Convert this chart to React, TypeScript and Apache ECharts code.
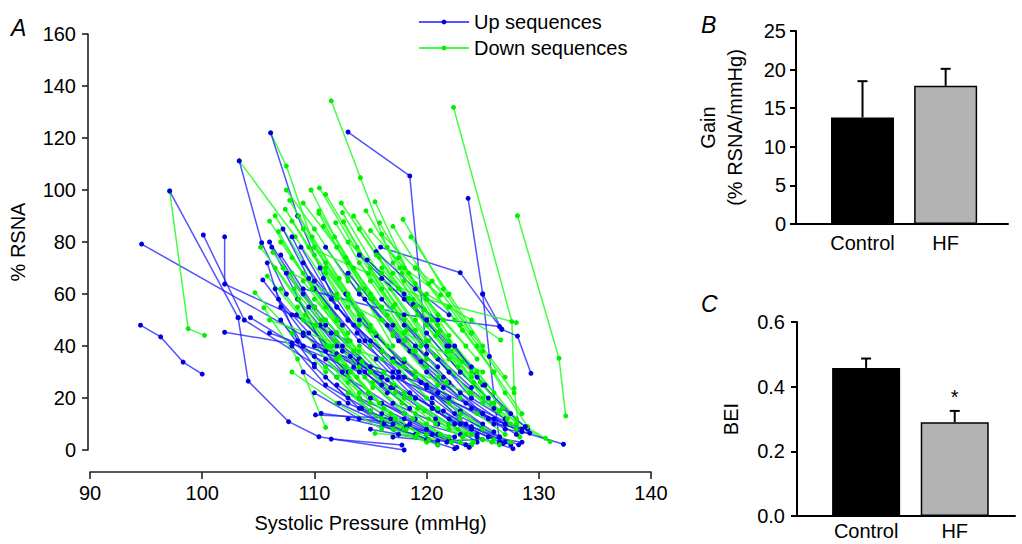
import React, { useEffect, useRef } from "react";
import * as echarts from "echarts";

// ---------- data ----------
const pressureTicks = [90, 100, 110, 120, 130, 140];
const rsnaTicks = [0, 20, 40, 60, 80, 100, 120, 140, 160];
const barCategories = ["Control", "HF"];
const gainMean = [13.8, 17.9];
const gainUpper = [18.5, 20.1];
const beiMean = [0.458, 0.29];
const beiUpper = [0.487, 0.325];
const beiMarks = ["", "*"];

// Up sequences (SBP rising, RSNA falling): [SBP mmHg, %RSNA]
const upSequences: number[][][] = [
  [[94.6, 79.2], [109, 44], [116.5, 27]],
  [[94.5, 48], [96.3, 43.5], [98.3, 33.8], [100, 29.2]],
  [[97.1, 99.6], [103.2, 50.9]],
  [[103.2, 50.9], [104.1, 26.5], [107.7, 10.9], [110.4, 5.1], [118, 0]],
  [[100.1, 82.7], [103.75, 50], [110, 33]],
  [[102, 82], [102, 63.8], [108, 52], [113, 42]],
  [[111.5, 4.2], [117.8, 1.9]],
  [[104.3, 50.9], [110, 36], [118, 14]],
  [[102, 45.3], [108, 41], [114, 30]],
  [[103.3, 111.2], [105.3, 79.7], [107.5, 60]],
  [[106.1, 122], [108.5, 90], [110.5, 70], [112, 55]],
  [[113, 122.3], [118.5, 105.4], [120, 37]],
  [[115.9, 78], [123, 68.2], [126.7, 46.4], [128.1, 43.8], [129.3, 29.5]],
  [[123.7, 96.8], [125, 60], [126.7, 46.5]],
  [[125, 60], [125.6, 36], [126.5, 3]],
  [[109, 62], [118, 52], [126.5, 47.5]],
  [[110.1, 13.5], [118, 12], [123, 6]],
  [[110.6, 14.1], [116, 11], [122.5, 5]],
  [[114, 20], [120, 8], [122.7, 1]],
  [[116, 18], [121, 6], [123.5, 2]],
  [[117, 24], [122, 10], [124.5, 3]],
  [[118, 28], [123, 15], [126, 7]],
  [[119, 20], [124, 9], [127.5, 2]],
  [[120, 30], [125, 14], [128, 6]],
  [[121, 22], [126, 10], [129, 8]],
  [[122, 12], [126.5, 5], [128.2, 2]],
  [[118.5, 10], [122, 4], [124, 2]],
  [[113, 12], [119, 6], [121, 2]],
  [[115, 8], [120, 4], [122.5, 0.5]],
  [[124, 16], [127, 8], [129.2, 6.5]],
  [[126, 12], [128.5, 7], [132.2, 2.2]],
  [[120.5, 16], [124.5, 5], [127.7, 0.5]],
  [[117, 5], [121, 3.5], [125, 4]],
  [[106, 80], [109, 60], [112, 45]],
  [[107, 75], [110, 55], [114, 35]],
  [[107.5, 68], [111, 48], [115, 32]],
  [[108, 82], [110, 65], [113, 50]],
  [[108.5, 58], [112, 40], [116, 28]],
  [[109, 72], [113, 50], [117, 35]],
  [[110, 62], [114, 42], [118, 28]],
  [[110.5, 48], [114, 33], [119, 20]],
  [[111, 78], [114, 60], [118, 42]],
  [[112, 55], [116, 38], [120, 24]],
  [[112.5, 40], [116, 28], [121, 15]],
  [[113, 68], [117, 48], [121, 32]],
  [[114, 50], [118, 34], [122, 20]],
  [[115, 42], [119, 28], [123, 14]],
  [[116, 58], [120, 40], [124, 24]],
  [[117, 35], [121, 22], [125, 10]],
  [[118, 48], [122, 30], [126, 16]],
  [[119, 40], [123, 22], [127, 10]],
  [[105.8, 72], [107, 55], [109, 40]],
  [[106.5, 62], [108.5, 42], [112, 28]],
  [[107, 50], [110, 32], [113, 20]],
  [[108, 40], [111, 25], [115, 15]],
  [[109, 30], [113, 18], [117, 10]],
  [[111, 35], [115, 20], [119, 12]],
  [[112, 25], [116, 14], [120, 6]],
  [[113.5, 32], [117, 18], [121, 10]],
  [[110, 22], [114, 12], [118, 8]],
  [[106.2, 78], [111, 38]],
  [[114, 75], [118, 58], [122, 40]],
  [[116, 66], [120, 50], [124, 32]],
  [[120, 45], [123, 30], [125.5, 20]],
  [[121, 35], [124, 20], [127, 12]],
  [[122, 26], [125, 14], [128, 8]],
  [[108.4, 52], [112, 37], [116, 25]],
  [[105.4, 65.4], [109, 45], [113, 30]],
  [[106, 45], [117, 28], [127, 10]],
  [[110, 40], [120, 25], [128.5, 8]],
  [[115.5, 76.3], [119, 62], [122, 52]],
  [[114.7, 73.1], [118, 60], [121, 50]],
  [[107.2, 85], [109.5, 66], [112.5, 48]],
  [[108.8, 78], [111.5, 58], [114.5, 42]],
  [[109.5, 55], [112.5, 38], [116.5, 22]],
  [[110.8, 66], [113.5, 48], [117.5, 30]],
  [[111.5, 45], [114.5, 30], [118.5, 16]],
  [[112.8, 60], [115.5, 44], [119.5, 26]],
  [[113.8, 45], [117, 30], [120.5, 18]],
  [[114.5, 58], [117.5, 42], [121.5, 28]],
  [[115.5, 35], [118.5, 22], [122.5, 10]],
  [[116.5, 48], [119.5, 34], [123.5, 18]],
  [[117.5, 28], [120.5, 16], [124.5, 6]],
  [[118.5, 38], [121.5, 24], [125.5, 12]],
  [[119.5, 26], [122.5, 14], [126.5, 5]],
  [[120.5, 20], [123.5, 10], [127, 3]],
  [[121.5, 15], [124, 8], [126.8, 2.5]],
  [[123, 10], [125.5, 5], [128.5, 3]],
  [[116.8, 12], [120.5, 6], [123.8, 1]],
  [[114.2, 16], [118.2, 9], [121.8, 3]],
  [[112.2, 18], [116.2, 10], [120.2, 4]],
  [[111, 28], [114, 16], [117.5, 6]],
  [[122.5, 40], [125, 25], [127.5, 14]],
  [[124.5, 28], [126.8, 16], [128.8, 9]],
  [[106.8, 58], [109.5, 45], [112.5, 30]],
  [[113.2, 36], [116.8, 24], [120.8, 12]],
  [[118.8, 56], [121.8, 40], [125.2, 25]],
];

// Down sequences (SBP falling, RSNA rising): [SBP mmHg, %RSNA]
const downSequences: number[][][] = [
  [[97.1, 99.6], [98.75, 46.7], [100.2, 44.1]],
  [[103.3, 111.2], [108.3, 82], [112, 58]],
  [[106.1, 122], [107.5, 109.2], [110, 78], [113, 58]],
  [[111.5, 134.3], [114.1, 104.7], [117, 72], [119, 55]],
  [[122.4, 131.8], [127.6, 49.4], [127.8, 23.7], [128.3, 5]],
  [[128.1, 90.1], [131.8, 35.3], [132.4, 13.1]],
  [[117.9, 88.7], [121.5, 62], [124, 45]],
  [[115.4, 95.5], [118.4, 68], [121, 48]],
  [[109.7, 100], [113, 72], [116, 50]],
  [[110.45, 100.8], [114, 75], [117.5, 52]],
  [[111, 98.3], [115, 70], [119, 46]],
  [[107.4, 92.6], [111, 68], [114, 48]],
  [[106.5, 90.1], [110, 65], [113, 45]],
  [[112.5, 91.3], [116, 66], [120, 42]],
  [[115.8, 87.4], [119, 64], [122, 44]],
  [[115, 84.4], [118, 70], [121.25, 59.6]],
  [[116, 83], [119, 70], [121.9, 59.6]],
  [[113, 80], [116, 68], [118.4, 58.3]],
  [[104.7, 60.5], [108, 45], [111, 30]],
  [[105.8, 66.9], [109, 50], [112, 35]],
  [[105.5, 54.7], [108.5, 35], [111, 8.7]],
  [[124, 30], [128, 10], [131, 3.2]],
  [[122, 35], [126.5, 15], [130.6, 4.5]],
  [[120, 60], [124, 50], [126.6, 42.3]],
  [[111.9, 87.4], [115, 65], [118, 45]],
  [[112.6, 87.8], [116, 62], [119.5, 40]],
  [[110.4, 92], [113.5, 70], [117, 48]],
  [[110.4, 91], [114, 62], [117, 40]],
  [[108, 88], [112, 60], [115, 40]],
  [[109, 85], [113, 58], [116, 38]],
  [[107, 80], [111, 55], [114, 35]],
  [[108, 74], [112, 50], [115, 30]],
  [[106.5, 70], [110, 48], [113, 28]],
  [[107, 62], [111, 40], [114, 22]],
  [[108.5, 55], [112, 35], [115, 18]],
  [[109, 65], [113, 42], [117, 25]],
  [[110, 75], [114, 52], [118, 32]],
  [[111, 70], [115, 46], [119, 28]],
  [[112, 78], [116, 55], [120, 35]],
  [[113, 66], [117, 44], [121, 25]],
  [[114, 72], [118, 50], [122, 30]],
  [[115, 60], [119, 38], [123, 20]],
  [[116, 70], [120, 48], [124, 28]],
  [[117, 55], [121, 35], [125, 18]],
  [[118, 65], [122, 42], [126, 22]],
  [[119, 50], [123, 30], [126.5, 15]],
  [[120, 40], [124, 22], [127.5, 10]],
  [[121, 48], [124.5, 30], [128, 12]],
  [[110, 58], [114, 38], [118, 20]],
  [[111, 50], [115, 30], [119, 14]],
  [[112, 45], [116, 25], [120, 10]],
  [[113, 55], [117, 34], [121, 16]],
  [[114, 40], [118, 22], [122, 8]],
  [[115, 48], [119, 28], [123, 12]],
  [[116, 38], [120, 20], [124, 6]],
  [[117, 45], [121, 25], [125, 8]],
  [[118, 35], [122, 18], [126, 4]],
  [[119, 30], [123, 14], [127.5, 3]],
  [[109, 45], [113, 26], [117, 12]],
  [[110, 40], [114, 20], [118, 8]],
  [[111, 32], [115, 15], [119, 5]],
  [[112, 28], [116, 10], [120, 3]],
  [[113, 22], [117, 8], [121, 2]],
  [[115.4, 6.4], [119, 5], [123, 3]],
  [[107.5, 100], [110, 85], [113, 65]],
  [[109, 95], [112, 78], [115, 58]],
  [[113.5, 90], [117, 68], [120.5, 50]],
  [[114, 85], [117.5, 62], [121, 45]],
  [[116.5, 78], [120, 58], [123.5, 40]],
  [[117.5, 74], [121, 52], [124.5, 35]],
  [[119, 70], [122.5, 50], [126, 30]],
  [[120.5, 65], [124, 45], [127, 28]],
  [[122, 55], [125, 38], [127.8, 22]],
  [[123, 48], [126, 30], [128.5, 14]],
  [[124.5, 40], [127, 22], [129, 9]],
  [[106, 88], [109, 68], [112, 50]],
  [[106.3, 76], [110, 55], [113.5, 38]],
  [[118.5, 20], [122, 10], [125, 4]],
  [[121, 28], [124.5, 14], [127, 6]],
  [[116, 12], [120, 6], [124, 2]],
  [[114.5, 28], [118, 14], [122, 5]],
  [[108, 30], [112, 18], [116, 8]],
  [[106, 50], [116, 35], [126, 18]],
  [[108, 68], [118, 45], [125, 30]],
  [[109.5, 78], [120, 58], [128, 49]],
  [[107.8, 96], [111, 72], [114.2, 52]],
  [[108.6, 90], [112.2, 66], [115.4, 45]],
  [[109.8, 82], [113, 60], [116.5, 40]],
  [[110.8, 86], [114.5, 62], [118, 42]],
  [[111.8, 82], [115.2, 58], [118.8, 38]],
  [[112.8, 74], [116.5, 52], [120, 32]],
  [[113.8, 78], [117.2, 56], [120.8, 36]],
  [[114.8, 68], [118.2, 46], [121.8, 26]],
  [[115.8, 74], [119.2, 52], [122.8, 32]],
  [[116.8, 62], [120.2, 42], [123.8, 22]],
  [[117.8, 68], [121.2, 46], [124.8, 26]],
  [[118.8, 58], [122.2, 38], [125.8, 18]],
  [[119.8, 54], [123.2, 34], [126.8, 16]],
  [[120.8, 44], [124.2, 26], [127.2, 12]],
  [[121.8, 38], [125, 20], [128, 8]],
  [[108.2, 62], [111.8, 42], [115.2, 24]],
  [[109.2, 52], [112.8, 32], [116.2, 16]],
  [[110.2, 48], [113.8, 28], [117.2, 12]],
  [[111.2, 40], [114.8, 22], [118.2, 8]],
  [[112.2, 36], [115.8, 18], [119.2, 6]],
  [[113.2, 30], [116.8, 14], [120.2, 4]],
  [[114.2, 34], [117.8, 18], [121.2, 6]],
  [[115.2, 26], [118.8, 12], [122.2, 3]],
  [[116.2, 30], [119.8, 15], [123.2, 5]],
  [[117.2, 22], [120.8, 10], [124.2, 3]],
  [[119.2, 16], [122.8, 8], [125.8, 3]],
  [[120.2, 12], [123.5, 6], [126.5, 2]],
  [[106.8, 84], [109.8, 62], [113.2, 42]],
  [[105.2, 78], [108.6, 58], [111.6, 40]],
  [[107.2, 70], [110.6, 50], [114, 32]],
  [[112.4, 95], [115.5, 75], [119, 55]],
  [[114.6, 92], [117.6, 70], [121.5, 50]],
  [[117, 86], [120.2, 64], [123.2, 46]],
  [[118.6, 82], [122, 60], [125, 40]],
];

// ---------- styling ----------
const FONT = '"Liberation Sans", Arial, Helvetica, sans-serif';
const BLACK = "#000";

function buildOption() {
  const upSeries = upSequences.map((seq) => ({
    type: "line",
    name: "Up sequences",
    xAxisIndex: 0,
    yAxisIndex: 0,
    data: seq,
    symbol: "circle",
    symbolSize: 5,
    showSymbol: true,
    silent: true,
    lineStyle: { color: "#1a1aff", width: 1.5, opacity: 0.75 },
    itemStyle: { color: "#0000e0" },
    z: 2,
  }));
  const downSeries = downSequences.map((seq) => ({
    type: "line",
    name: "Down sequences",
    xAxisIndex: 0,
    yAxisIndex: 0,
    data: seq,
    symbol: "circle",
    symbolSize: 5,
    showSymbol: true,
    silent: true,
    lineStyle: { color: "#22ff22", width: 1.5, opacity: 0.85 },
    itemStyle: { color: "#00f000" },
    z: 2,
  }));
  const seqSeries: any[] = [];
  const n = Math.max(upSeries.length, downSeries.length);
  for (let i = 0; i < n; i++) {
    if (upSeries[i]) seqSeries.push(upSeries[i]);
    if (downSeries[i]) seqSeries.push(downSeries[i]);
  }

  const posB = [0.8, 1.8];
  const posC = [0.78, 1.78];
  const barColors = ["#000000", "#b3b3b3"];

  const errRender = (params: any, api: any) => {
    const x = api.value(0);
    const m = api.value(1);
    const u = api.value(2);
    const p0 = api.coord([x, m]);
    const p1 = api.coord([x, u]);
    const cap = 5;
    return {
      type: "group",
      children: [
        { type: "line", shape: { x1: p0[0], y1: p0[1], x2: p1[0], y2: p1[1] }, style: { stroke: BLACK, lineWidth: 2 } },
        { type: "line", shape: { x1: p1[0] - cap, y1: p1[1], x2: p1[0] + cap, y2: p1[1] }, style: { stroke: BLACK, lineWidth: 2 } },
      ],
    };
  };

  const catAxis = (gridIndex: number, max: number, pos: number[], margin: number) => ({
    type: "value",
    gridIndex,
    min: 0,
    max,
    axisLine: { show: true, onZero: false, lineStyle: { color: BLACK, width: 2 } },
    axisTick: { show: false },
    splitLine: { show: false },
    axisLabel: {
      show: true,
      customValues: pos,
      margin,
      color: BLACK,
      fontSize: 20,
      fontFamily: FONT,
      formatter: (v: number) => {
        const i = pos.findIndex((p) => Math.abs(p - v) < 1e-6);
        return i >= 0 ? barCategories[i] : "";
      },
    },
  });

  const valAxisCommon = {
    type: "value",
    axisLine: { show: true, onZero: false, lineStyle: { color: BLACK, width: 2 } },
    axisTick: { show: true, inside: false, length: 6, lineStyle: { color: BLACK, width: 2 } },
    splitLine: { show: false },
    nameLocation: "middle",
    nameMoveOverlap: false,
    nameRotate: 90,
    nameTextStyle: { color: BLACK, fontSize: 20, fontFamily: FONT, lineHeight: 27 },
  };

  return {
    animation: false,
    backgroundColor: "#fff",
    textStyle: { fontFamily: FONT },
    legend: {
      show: true,
      orient: "vertical",
      left: 413,
      top: 7,
      itemWidth: 50,
      itemHeight: 6,
      itemGap: 6,
      selectedMode: false,
      data: ["Up sequences", "Down sequences"],
      textStyle: { fontSize: 20, color: BLACK, fontFamily: FONT },
    },
    grid: [
      { left: 90, top: 34, width: 561, height: 416, outerBoundsMode: "none", containLabel: false },
      { left: 796, top: 31, width: 212, height: 193, outerBoundsMode: "none", containLabel: false },
      { left: 797, top: 322, width: 218, height: 194, outerBoundsMode: "none", containLabel: false },
    ],
    xAxis: [
      {
        type: "value",
        gridIndex: 0,
        min: 90,
        max: 140,
        interval: 10,
        offset: 22,
        axisLine: { show: true, onZero: false, lineStyle: { color: "#222", width: 1.6 } },
        axisTick: { show: true, inside: false, length: 7, lineStyle: { color: "#222", width: 1.6 } },
        splitLine: { show: false },
        axisLabel: {
          margin: 11,
          color: BLACK,
          fontSize: 20,
          fontFamily: FONT,
          customValues: pressureTicks,
        },
        name: "Systolic Pressure (mmHg)",
        nameLocation: "middle",
        nameGap: 41,
        nameMoveOverlap: false,
        nameTextStyle: { color: BLACK, fontSize: 20, fontFamily: FONT },
      },
      catAxis(1, 2.55, posB, 9),
      catAxis(2, 2.46, posC, 5),
    ],
    yAxis: [
      {
        type: "value",
        gridIndex: 0,
        min: 0,
        max: 160,
        interval: 20,
        offset: 2,
        axisLine: { show: true, onZero: false, lineStyle: { color: "#222", width: 1.6 } },
        axisTick: { show: true, inside: false, length: 6, lineStyle: { color: "#222", width: 1.6 } },
        splitLine: { show: false },
        axisLabel: { margin: 12, color: BLACK, fontSize: 20, fontFamily: FONT, customValues: rsnaTicks },
        name: "% RSNA",
        nameLocation: "middle",
        nameGap: 60,
        nameMoveOverlap: false,
        nameTextStyle: { color: BLACK, fontSize: 20, fontFamily: FONT },
      },
      {
        ...valAxisCommon,
        gridIndex: 1,
        min: 0,
        max: 25,
        interval: 5,
        axisLabel: { margin: 10, color: BLACK, fontSize: 20, fontFamily: FONT },
        name: "Gain\n(% RSNA/mmHg)",
        nameGap: 48,
      },
      {
        ...valAxisCommon,
        gridIndex: 2,
        min: 0,
        max: 0.6,
        interval: 0.2,
        axisLabel: {
          margin: 12,
          color: BLACK,
          fontSize: 20,
          fontFamily: FONT,
          formatter: (v: number) => v.toFixed(1),
        },
        name: "BEI",
        nameGap: 53,
      },
    ],
    graphic: [
      { type: "text", left: 11, top: 16, style: { text: "A", fontSize: 23, fontStyle: "italic", fontFamily: FONT, fill: BLACK } },
      { type: "text", left: 701, top: 13, style: { text: "B", fontSize: 23, fontStyle: "italic", fontFamily: FONT, fill: BLACK } },
      { type: "text", left: 701, top: 292, style: { text: "C", fontSize: 23, fontStyle: "italic", fontFamily: FONT, fill: BLACK } },
    ],
    series: [
      ...seqSeries,
      {
        type: "bar",
        xAxisIndex: 1,
        yAxisIndex: 1,
        barWidth: 63,
        silent: true,
        data: gainMean.map((v, i) => ({
          value: [posB[i], v],
          itemStyle: { color: barColors[i], borderColor: BLACK, borderWidth: 1.5 },
        })),
        z: 3,
      },
      {
        type: "custom",
        xAxisIndex: 1,
        yAxisIndex: 1,
        silent: true,
        encode: { x: 0, y: [1, 2] },
        data: gainMean.map((v, i) => [posB[i], v, gainUpper[i]]),
        renderItem: errRender,
        z: 4,
      },
      {
        type: "bar",
        xAxisIndex: 2,
        yAxisIndex: 2,
        barWidth: 68,
        silent: true,
        data: beiMean.map((v, i) => ({
          value: [posC[i], v],
          itemStyle: { color: barColors[i], borderColor: BLACK, borderWidth: 1.5 },
        })),
        z: 3,
      },
      {
        type: "custom",
        xAxisIndex: 2,
        yAxisIndex: 2,
        silent: true,
        encode: { x: 0, y: [1, 2] },
        data: beiMean.map((v, i) => [posC[i], v, beiUpper[i], i]),
        renderItem: (params: any, api: any) => {
          const g: any = errRender(params, api);
          const idx = api.value(3);
          const mark = beiMarks[idx];
          if (mark) {
            const p = api.coord([api.value(0), api.value(2)]);
            g.children.push({
              type: "text",
              x: p[0],
              y: p[1] - 14,
              style: { text: mark, fontSize: 20, fontFamily: FONT, fill: BLACK, align: "center", verticalAlign: "middle" },
            });
          }
          return g;
        },
        z: 4,
      },
    ],
  };
}

export default function App() {
  const ref = useRef<HTMLDivElement>(null);
  useEffect(() => {
    if (!ref.current) return;
    const chart = echarts.init(ref.current, undefined, { renderer: "svg" });
    chart.setOption(buildOption() as any);
    return () => chart.dispose();
  }, []);
  return <div ref={ref} style={{ width: 1022, height: 544, position: "absolute", left: 0, top: 0, background: "#fff" }} />;
}
